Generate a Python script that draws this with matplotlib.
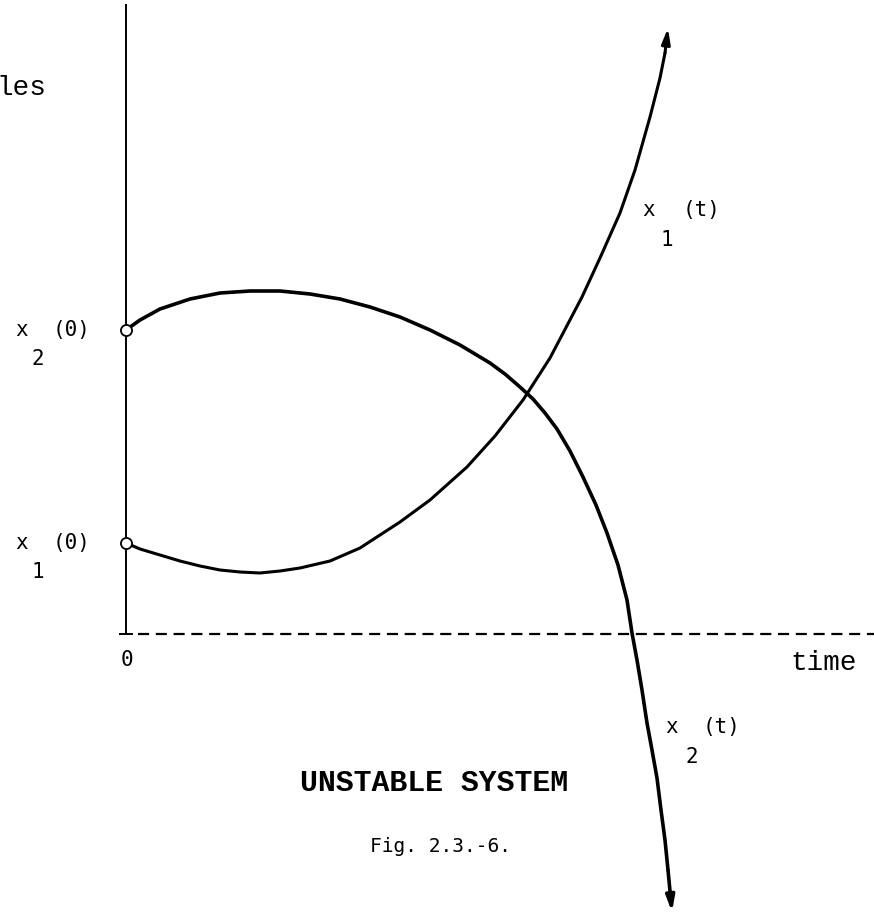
import matplotlib
matplotlib.use("Agg")
import matplotlib.pyplot as plt

# ---- data (time units, value units) ----
x1_t = [0.00, 0.14, 0.34, 0.54, 0.74, 0.94, 1.14, 1.34, 1.54, 1.74, 2.04, 2.34, 2.74,
        3.04, 3.41, 3.69, 3.97, 4.24, 4.56, 4.74, 4.94, 5.09, 5.24, 5.34, 5.39]
x1_v = [0.91, 0.85, 0.79, 0.73, 0.68, 0.64, 0.62, 0.61, 0.63, 0.66, 0.73, 0.86, 1.12,
        1.34, 1.67, 1.98, 2.34, 2.76, 3.37, 3.76, 4.21, 4.64, 5.17, 5.56, 5.81]
x1_tip = (5.42, 6.06)

x2_t = [0.00, 0.14, 0.34, 0.64, 0.94, 1.24, 1.54, 1.84, 2.14, 2.44, 2.74, 3.04, 3.34,
        3.64, 3.79, 3.94, 4.07, 4.19, 4.31, 4.44, 4.57, 4.70, 4.81, 4.92, 5.01, 5.06,
        5.11, 5.16, 5.21, 5.26, 5.31, 5.35, 5.39, 5.42]
x2_v = [3.04, 3.14, 3.25, 3.35, 3.41, 3.43, 3.43, 3.40, 3.35, 3.27, 3.17, 3.04, 2.89,
        2.71, 2.60, 2.47, 2.35, 2.21, 2.05, 1.83, 1.57, 1.29, 1.01, 0.69, 0.34, 0.01,
        -0.26, -0.56, -0.89, -1.16, -1.44, -1.76, -2.06, -2.36]
x2_tip = (5.46, -2.78)

x0_values = [x1_v[0], x2_v[0]]
x0_labels = ["1", "2"]

fig = plt.figure(figsize=(8.74, 9.14), dpi=100)
ax = fig.add_axes([0, 0, 1, 1])
ax.set_xlim(-1.26, 7.48)
ax.set_ylim(-2.80, 6.34)
ax.axis("off")

# axes
ax.plot([0, 0], [0, 6.29], color="black", lw=1.4)
ax.plot([-0.06, 0.06], [0, 0], color="black", lw=1.4)
ax.plot([0.12, 7.48], [0, 0], color="black", lw=1.6, dashes=(5, 3))

# curves
ax.plot(x1_t, x1_v, color="black", lw=2.2, solid_capstyle="round", solid_joinstyle="round")
ax.plot(x2_t, x2_v, color="black", lw=2.6, solid_capstyle="round", solid_joinstyle="round")
ax.annotate("", xy=x1_tip, xytext=(x1_t[-1], x1_v[-1]),
            arrowprops=dict(arrowstyle="-|>,head_length=0.9,head_width=0.25",
                            color="black", lw=2.2, shrinkA=0, shrinkB=0))
ax.annotate("", xy=x2_tip, xytext=(x2_t[-1], x2_v[-1]),
            arrowprops=dict(arrowstyle="-|>,head_length=0.9,head_width=0.25",
                            color="black", lw=2.6, shrinkA=0, shrinkB=0))

# initial points
ax.plot([0, 0], x0_values, "o", ms=8, mfc="white", mec="black", mew=1.3, zorder=5)

mono = "DejaVu Sans Mono"
for v, sub in zip(x0_values, x0_labels):
    ax.text(-1.11, v, "x", fontsize=15, family=mono, ha="left", va="center")
    ax.text(-0.73, v, "(0)", fontsize=15, family=mono, ha="left", va="center")
    ax.text(-0.88, v - 0.29, sub, fontsize=15, family=mono, ha="center", va="center")

ax.text(5.16, 4.24, "x", fontsize=15, family=mono, ha="left", va="center")
ax.text(5.57, 4.24, "(t)", fontsize=15, family=mono, ha="left", va="center")
ax.text(5.41, 3.94, "1", fontsize=15, family=mono, ha="center", va="center")

ax.text(5.39, -0.93, "x", fontsize=15, family=mono, ha="left", va="center")
ax.text(5.77, -0.93, "(t)", fontsize=15, family=mono, ha="left", va="center")
ax.text(5.66, -1.23, "2", fontsize=15, family=mono, ha="center", va="center")

ax.text(0.01, -0.26, "0", fontsize=15, family=mono, ha="center", va="center")
ax.text(6.64, -0.29, "time", fontsize=20, family="Liberation Mono", ha="left", va="center")
ax.text(-1.30, 5.46, "les", fontsize=20, family="Liberation Mono", ha="left", va="center")
ax.text(1.74, -1.49, "UNSTABLE SYSTEM", fontsize=21.5, family="Liberation Mono",
        weight="bold", ha="left", va="center")
ax.text(2.44, -2.13, "Fig. 2.3.-6.", fontsize=14, family=mono, ha="left", va="center")

fig.savefig("out.png", dpi=100)
